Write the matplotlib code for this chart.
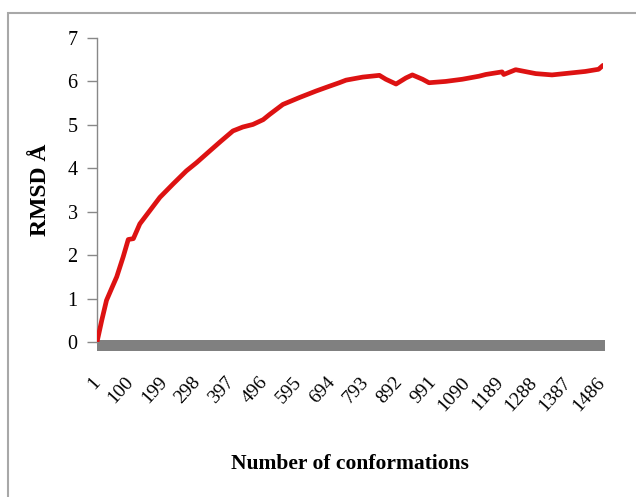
import matplotlib
matplotlib.use("Agg")
import matplotlib.pyplot as plt
import matplotlib.patches as patches
import numpy as np

# Значения (номер конформации, RMSD)
conformations = [1, 15, 29, 45, 59, 78, 93, 108, 127, 157, 186, 225, 264, 294,
                 333, 365, 401, 430, 460, 490, 509, 548, 597, 646, 685, 714,
                 734, 783, 832, 851, 881, 910, 929, 959, 978, 1027, 1076, 1125,
                 1145, 1193, 1198, 1233, 1292, 1340, 1389, 1438, 1477, 1490]
rmsd = [0.0, 0.5, 0.96, 1.25, 1.5, 1.96, 2.36, 2.38, 2.72, 3.03, 3.33, 3.64,
        3.94, 4.13, 4.40, 4.62, 4.86, 4.95, 5.01, 5.12, 5.24, 5.47, 5.63, 5.78,
        5.89, 5.97, 6.03, 6.10, 6.14, 6.05, 5.94, 6.08, 6.15, 6.05, 5.97, 6.00,
        6.05, 6.12, 6.16, 6.22, 6.16, 6.27, 6.18, 6.15, 6.19, 6.23, 6.28, 6.37]
x_ticks = list(range(1, 1487, 99))
y_ticks = [0, 1, 2, 3, 4, 5, 6, 7]

plt.rcParams['font.family'] = ['Liberation Serif', 'DejaVu Serif']

fig = plt.figure(figsize=(6.36, 4.97), dpi=100)
ax = fig.add_axes([97 / 636, 1 - 342 / 497, 506 / 636, 304 / 497])

# Рамка вокруг всей диаграммы (обрезана справа и снизу)
border = patches.Rectangle((8 / 636, -0.1), 1.2, 1 - 13 / 497 + 0.1,
                           transform=fig.transFigure, fill=False,
                           edgecolor='#a8a8a8', linewidth=1.5)
fig.patches.append(border)

ax.plot(conformations, rmsd, color='#dd1212', linewidth=3.4,
        solid_joinstyle='round', solid_capstyle='round', zorder=3)

ax.set_xlim(1, 1490)
ax.set_ylim(0, 7)
ax.set_yticks(y_ticks)
ax.set_xticks(x_ticks)
ax.set_xticklabels([str(t) for t in x_ticks], rotation=48, ha='right',
                   va='center', rotation_mode='anchor', fontsize=14)
ax.tick_params(axis='x', length=0, pad=27)
ax.tick_params(axis='y', length=7, width=1, color='#888888', pad=7,
               labelsize=14.5)

for side in ['top', 'right', 'bottom']:
    ax.spines[side].set_visible(False)
ax.spines['left'].set_color('#888888')
ax.spines['left'].set_linewidth(1)

# Толстая серая ось X
bar = patches.Rectangle((0, -0.029), 1.004, 0.036, transform=ax.transAxes,
                        facecolor='#808080', edgecolor='none', clip_on=False,
                        zorder=2)
ax.add_patch(bar)

ax.set_ylabel('RMSD Å', fontsize=17, fontweight='bold')
ax.yaxis.set_label_coords(-0.09, 0.5)
ax.set_xlabel('Number of conformations', fontsize=15.5, fontweight='bold')
ax.xaxis.set_label_coords(0.5, -0.368)

fig.savefig('out.png', dpi=100, facecolor='white')
